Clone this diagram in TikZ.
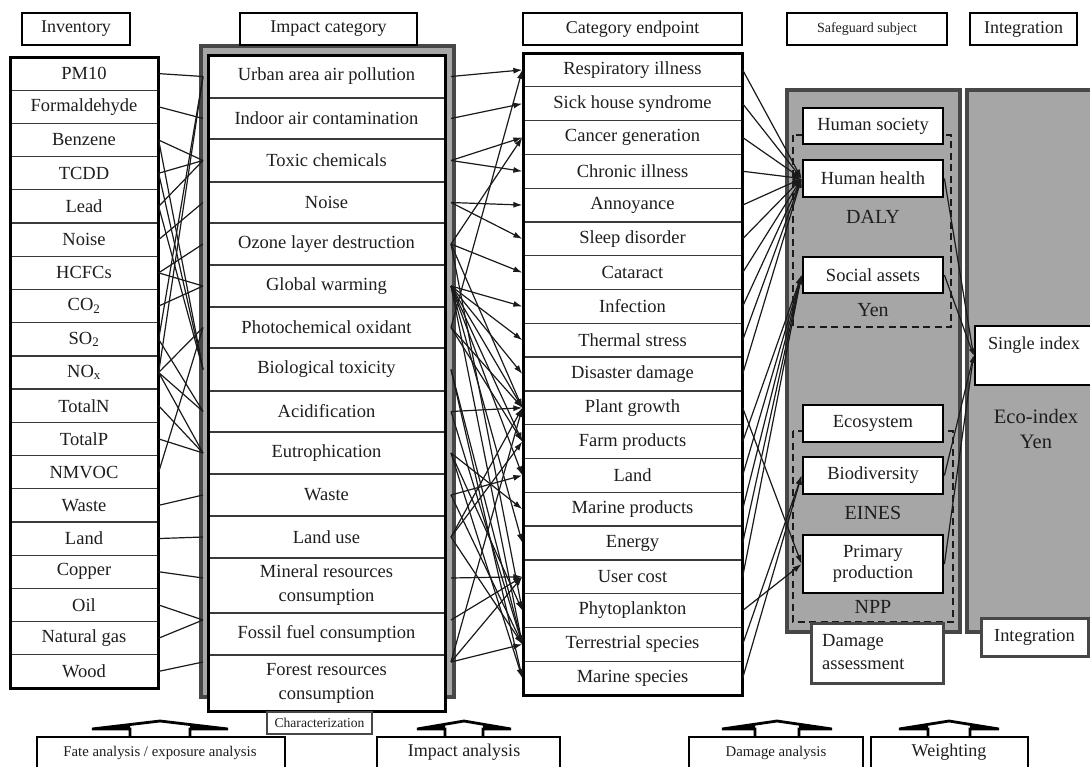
\documentclass[tikz,border=0pt]{standalone}
\usepackage{fontspec}
\setmainfont{Liberation Serif}
\usetikzlibrary{arrows.meta}
\definecolor{txt}{HTML}{1E1E1E}
\definecolor{ln}{HTML}{1A1A1A}
\definecolor{sep}{HTML}{3A3A3A}
\definecolor{gfill}{HTML}{A6A6A6}
\definecolor{gedge}{HTML}{474747}
\newcommand{\fsz}[2]{\fontsize{#1}{#2}\selectfont}
\newcommand{\blockarrow}[3]{%
  \fill[black] ({#1-#3},729) -- ({#1-#2},{729-8*(#3-#2)/#3}) -- ({#1-#2},729) -- cycle;
  \fill[black] ({#1+#3},729) -- ({#1+#2},{729-8*(#3-#2)/#3}) -- ({#1+#2},729) -- cycle;
  \draw[barrow] ({#1-#2},737) -- ({#1-#2},729) -- ({#1-#3},729) -- (#1,721) -- ({#1+#3},729) -- ({#1+#2},729) -- ({#1+#2},737);}
\tikzset{
  cell/.style={draw=sep, line width=1.3pt, fill=white, inner sep=0pt, text=txt, align=center, font=\fsz{18.5}{24}},
  colframe/.style={draw=black, line width=3pt, inner sep=0pt},
  hdr/.style={draw=black, line width=2.6pt, fill=white, inner sep=0pt, text=txt, minimum height=32},
  gbox/.style={draw=gedge, line width=3.5pt, fill=gfill},
  sbox/.style={draw=black, line width=2.8pt, fill=white, inner sep=0pt, text=txt, font=\fsz{18.5}{21}, align=center, minimum width=140},
  conn/.style={draw=ln, line width=1.2pt},
  arr/.style={conn, -{Latex[length=9pt,width=6pt]}},
  sarr/.style={conn, -{Latex[length=7pt,width=5pt]}},
  dbox/.style={draw=ln, line width=2pt, dash pattern=on 7pt off 4.5pt},
  lab/.style={text=txt, inner sep=0pt},
  barrow/.style={draw=black, line width=2.8pt, line join=miter},
  bbox/.style={draw=black, line width=2.8pt, fill=white},
}
\begin{document}
\begin{tikzpicture}[x=1pt,y=-1pt]
\useasboundingbox (0,0) rectangle (1090,766);
\clip (0,0) rectangle (1090,766);
\fill[white] (0,0) rectangle (1090,766);

% gray frames
\draw[gbox] (201,46) rectangle (454,697);
\draw[gbox] (787,90) rectangle (960,632);
\draw[gbox] (967,90) rectangle (1110,632);

% headers
\node[hdr, minimum width=108, font=\fsz{18}{20}] (hInv) at (76,29) {Inventory};
\node[hdr, minimum width=177, font=\fsz{18}{20}] (hImp) at (328.5,29) {Impact category};
\node[hdr, minimum width=219, font=\fsz{18}{20}] (hEp) at (632.5,29) {Category endpoint};
\node[hdr, minimum width=160, font=\fsz{14}{16}] (hSg) at (867,29) {Safeguard subject};
\node[hdr, minimum width=107, font=\fsz{18}{20}] (hInt) at (1023.5,29) {Integration};

% inventory column
\foreach \t [count=\i] in {PM10,Formaldehyde,Benzene,TCDD,Lead,Noise,HCFCs,{CO\textsubscript{2}},{SO\textsubscript{2}},{NO\textsubscript{x}},TotalN,TotalP,NMVOC,Waste,Land,Copper,Oil,{Natural gas},Wood}
  \node[cell, minimum width=148, minimum height=33.21] (inv\i) at (84,{57+(\i-0.5)*33.21}) {\t};
\node[colframe, minimum width=148, minimum height=631] (invF) at (84,372.5) {};

\coordinate (gL) at (203,0);
\coordinate (gR) at (451,0);

% impact column (with connection points iL/iR)
\foreach \c/\h/\o/\t [count=\i] in {76.5/43/0/{Urban area air pollution},118.5/41/0/{Indoor air contamination},160.5/43/0/{Toxic chemicals},202.5/41/0/{Noise},244/42/0/{Ozone layer destruction},286/42/0/{Global warming},327.5/41/0/{Photochemical oxidant},369.5/43/0/{Biological toxicity},411.5/41/0/{Acidification},453/42/0/{Eutrophication},495/42/0/{Waste},537/42/0/{Land use},585.5/55/7.5/{Mineral resources\\consumption},634/42/14/{Fossil fuel consumption},683/56/21/{Forest resources\\consumption}}
  {\node[cell, minimum width=237, minimum height=\h] (imp\i) at (326.5,\c) {\t};
   \coordinate (iL\i) at ([yshift=\o pt]imp\i.west -| gL);
   \coordinate (iR\i) at ([yshift=\o pt]imp\i.east -| gR);}
\node[colframe, minimum width=237, minimum height=656] (impF) at (326.5,383) {};

% endpoint column
\foreach \t [count=\i] in {Respiratory illness,Sick house syndrome,Cancer generation,Chronic illness,Annoyance,Sleep disorder,Cataract,Infection,Thermal stress,Disaster damage,Plant growth,Farm products,Land,Marine products,Energy,User cost,Phytoplankton,Terrestrial species,Marine species}
  \node[cell, minimum width=219, minimum height=33.79] (ep\i) at (632.5,{53+(\i-0.5)*33.79}) {\t};
\node[colframe, minimum width=219, minimum height=642] (epF) at (632.5,374) {};

% inventory -> impact
\foreach \a/\b in {1/1,2/2,3/3,4/3,5/3,3/8,4/8,5/8,6/4,7/5,7/6,8/6,9/1,10/1,10/7,13/7,9/9,10/9,10/10,11/10,12/10,14/11,15/12,16/13,17/14,18/14,19/15}
  \draw[conn] (inv\a.east) -- (iL\b);

% impact -> endpoint
\foreach \a/\b in {1/1,2/2,3/3,3/4,4/5,4/6,5/3,5/7,5/11,5/17,6/8,6/9,6/10,6/11,6/12,6/13,6/15,6/18,7/1,7/11,7/12,8/18,8/19,9/11,9/18,10/14,10/17,10/19,11/13,11/18,12/11,12/12,12/18,13/16,14/16,15/16,15/11,15/18}
  \draw[arr] (iR\a) -- (ep\b.west);

% dashed groups
\draw[dbox] (793,135) rectangle (951,327);
\draw[dbox] (793,431) rectangle (953,622);

% safeguard boxes
\node[sbox, minimum height=36] (hs) at (873,126) {Human society};
\node[sbox, minimum height=37] (hh) at (873,178.5) {Human health};
\node[sbox, minimum height=36] (sa) at (873,275) {Social assets};
\node[sbox, minimum height=37] (eco) at (873,423.5) {Ecosystem};
\node[sbox, minimum height=37] (bd) at (873,475.5) {Biodiversity};
\node[sbox, minimum height=58] (pp) at (873,564) {Primary\\production};

\node[lab, font=\fsz{20}{22}] (tDaly) at (873,217) {DALY};
\node[lab, font=\fsz{20}{22}] (tYen) at (873,310) {Yen};
\node[lab, font=\fsz{20}{22}] (tEines) at (873,513) {EINES};
\node[lab, font=\fsz{20}{22}] (tNpp) at (873,607) {NPP};

% endpoint -> safeguard
\foreach \a in {1,...,10}
  \draw[arr] (ep\a.east) -- (hh.west);
\foreach \a in {12,...,16}
  \draw[arr] (ep\a.east) -- (sa.west);
\foreach \a in {11,17}
  \draw[arr] (ep\a.east) -- (pp.west);
\foreach \a in {18,19}
  \draw[arr] (ep\a.east) -- (bd.west);

% integration
\node[draw=black, line width=2.8pt, fill=white, minimum width=130, minimum height=59, inner sep=0pt] (single) at (1040,355.5) {};
\node[lab, font=\fsz{18.3}{20}] (tSingle) at (1034,345) {Single index};
\node[lab, font=\fsz{20.5}{25}, align=center] (tEco) at (1036,428.5) {Eco-index\\Yen};
\foreach \s in {hh,sa,bd,pp}
  \draw[sarr] (\s.east) -- (single.west);

\node[draw=gedge, line width=3pt, fill=white, minimum width=132, minimum height=60, inner sep=0pt] (dam) at (877,653) {};
\node[lab, font=\fsz{18.5}{23}, align=left, anchor=west] (tDam) at (822,652) {Damage\\assessment};
\node[draw=gedge, line width=3pt, fill=white, minimum width=107, minimum height=38, inner sep=0pt, font=\fsz{18.4}{20}, text=txt] (integ) at (1034.5,637) {Integration};

% bottom analysis boxes
\draw[bbox] (37,800) -- (37,737) -- (285,737) -- (285,800);
\draw[bbox] (377,800) -- (377,737) -- (560,737) -- (560,800);
\draw[bbox] (689,800) -- (689,737) -- (863,737) -- (863,800);
\draw[bbox] (871,800) -- (871,737) -- (1028,737) -- (1028,800);
\node[lab, font=\fsz{14.8}{16}] (tFate) at (160,753) {Fate analysis / exposure analysis};
\node[lab, font=\fsz{18}{20}] (tImpA) at (464,752) {Impact analysis};
\node[lab, font=\fsz{14.8}{16}] (tDamA) at (776,753) {Damage analysis};
\node[lab, font=\fsz{18}{20}] (tWeigh) at (949,752) {Weighting};
\blockarrow{160}{30}{68}
\blockarrow{464}{19}{47}
\blockarrow{777}{22}{55}
\blockarrow{949}{21}{50}
\node[draw=gedge, line width=2.5pt, fill=white, minimum width=105, minimum height=22, inner sep=0pt, font=\fsz{13.6}{15}, text=txt] (charz) at (319.5,723) {Characterization};
\end{tikzpicture}
\end{document}
